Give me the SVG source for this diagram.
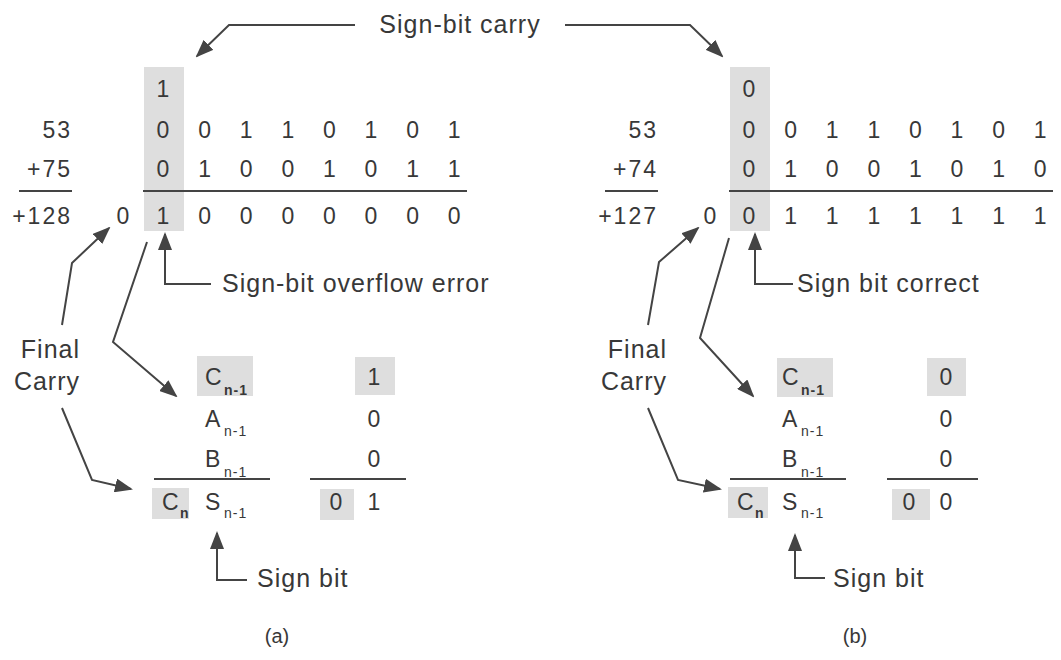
<svg xmlns="http://www.w3.org/2000/svg" width="1061" height="660" viewBox="0 0 1061 660">
<defs>
<style>
text{font-family:"Liberation Sans",Arial,sans-serif;fill:#383838}
.lbl{font-size:25px;letter-spacing:1px}
.num{font-size:23px;letter-spacing:2px}
.d{font-size:23px;text-anchor:middle}
.sub{font-size:14px;letter-spacing:1px}
.cap{font-size:20px;text-anchor:middle}
.shade{fill:#dedede}
.rule{stroke:#444;stroke-width:2;fill:none}
.conn{stroke:#444;stroke-width:2;fill:none;marker-end:url(#ah)}
</style>
<marker id="ah" markerUnits="userSpaceOnUse" markerWidth="18" markerHeight="14" refX="16" refY="7" orient="auto">
<path d="M0,0 L18,7 L0,14 Z" fill="#444"/>
</marker>
</defs>
<rect width="1061" height="660" fill="#fff"/>

<g id="title">
<text class="lbl" x="460" y="33" text-anchor="middle">Sign-bit carry</text>
</g>

<g id="panel-a-sum">
<rect class="shade" x="144" y="67" width="40" height="164"/>
<text class="d" x="163" y="97">1</text>
<text class="num" x="72" y="138" text-anchor="end">53</text>
<text class="num" x="72" y="177" text-anchor="end">+75</text>
<text class="num" x="72" y="224" text-anchor="end">+128</text>
<text class="d" x="123" y="224">0</text>
<g>
<text class="d" x="163" y="138">0</text><text class="d" x="204.6" y="138">0</text><text class="d" x="246.2" y="138">1</text><text class="d" x="287.8" y="138">1</text><text class="d" x="329.4" y="138">0</text><text class="d" x="371" y="138">1</text><text class="d" x="412.6" y="138">0</text><text class="d" x="454.2" y="138">1</text>
<text class="d" x="163" y="177">0</text><text class="d" x="204.6" y="177">1</text><text class="d" x="246.2" y="177">0</text><text class="d" x="287.8" y="177">0</text><text class="d" x="329.4" y="177">1</text><text class="d" x="371" y="177">0</text><text class="d" x="412.6" y="177">1</text><text class="d" x="454.2" y="177">1</text>
<text class="d" x="163" y="224">1</text><text class="d" x="204.6" y="224">0</text><text class="d" x="246.2" y="224">0</text><text class="d" x="287.8" y="224">0</text><text class="d" x="329.4" y="224">0</text><text class="d" x="371" y="224">0</text><text class="d" x="412.6" y="224">0</text><text class="d" x="454.2" y="224">0</text>
</g>
<line class="rule" x1="19" y1="191" x2="72" y2="191"/>
<line class="rule" x1="143" y1="191" x2="467" y2="191"/>
</g>

<g id="panel-b-sum">
<rect class="shade" x="730" y="67" width="40" height="164"/>
<text class="d" x="749" y="97">0</text>
<text class="num" x="658" y="138" text-anchor="end">53</text>
<text class="num" x="658" y="177" text-anchor="end">+74</text>
<text class="num" x="658" y="224" text-anchor="end">+127</text>
<text class="d" x="710" y="224">0</text>
<g>
<text class="d" x="749" y="138">0</text><text class="d" x="790.6" y="138">0</text><text class="d" x="832.2" y="138">1</text><text class="d" x="873.8" y="138">1</text><text class="d" x="915.4" y="138">0</text><text class="d" x="957" y="138">1</text><text class="d" x="998.6" y="138">0</text><text class="d" x="1040.2" y="138">1</text>
<text class="d" x="749" y="177">0</text><text class="d" x="790.6" y="177">1</text><text class="d" x="832.2" y="177">0</text><text class="d" x="873.8" y="177">0</text><text class="d" x="915.4" y="177">1</text><text class="d" x="957" y="177">0</text><text class="d" x="998.6" y="177">1</text><text class="d" x="1040.2" y="177">0</text>
<text class="d" x="749" y="224">0</text><text class="d" x="790.6" y="224">1</text><text class="d" x="832.2" y="224">1</text><text class="d" x="873.8" y="224">1</text><text class="d" x="915.4" y="224">1</text><text class="d" x="957" y="224">1</text><text class="d" x="998.6" y="224">1</text><text class="d" x="1040.2" y="224">1</text>
</g>
<line class="rule" x1="605" y1="191" x2="658" y2="191"/>
<line class="rule" x1="729" y1="191" x2="1053" y2="191"/>
</g>

<g id="panel-a-table">
<rect class="shade" x="197" y="356" width="56" height="40"/>
<rect class="shade" x="355" y="357" width="40" height="38"/>
<rect class="shade" x="152" y="488" width="37" height="31"/>
<rect class="shade" x="320" y="489" width="34" height="31"/>
<text class="num" x="205" y="385">C</text><text class="sub" x="224" y="395" font-weight="bold">n-1</text>
<text class="num" x="205" y="427">A</text><text class="sub" x="224" y="436">n-1</text>
<text class="num" x="205" y="467">B</text><text class="sub" x="224" y="477">n-1</text>
<text class="num" x="162" y="510">C</text><text class="sub" x="180" y="518" font-weight="bold">n</text>
<text class="num" x="205" y="510">S</text><text class="sub" x="224" y="518">n-1</text>
<text class="d" x="374" y="385">1</text>
<text class="d" x="374" y="427">0</text>
<text class="d" x="374" y="467">0</text>
<text class="d" x="336" y="510">0</text>
<text class="d" x="374" y="510">1</text>
<line class="rule" x1="154" y1="479" x2="270" y2="479"/>
<line class="rule" x1="310" y1="479" x2="406" y2="479"/>
</g>

<g id="panel-b-table">
<rect class="shade" x="777" y="358" width="56" height="39"/>
<rect class="shade" x="927" y="358" width="39" height="38"/>
<rect class="shade" x="728" y="487" width="40" height="31"/>
<rect class="shade" x="892" y="489" width="38" height="31"/>
<text class="num" x="782" y="385">C</text><text class="sub" x="801" y="395" font-weight="bold">n-1</text>
<text class="num" x="782" y="427">A</text><text class="sub" x="801" y="436">n-1</text>
<text class="num" x="782" y="467">B</text><text class="sub" x="801" y="477">n-1</text>
<text class="num" x="737" y="510">C</text><text class="sub" x="755" y="518" font-weight="bold">n</text>
<text class="num" x="782" y="510">S</text><text class="sub" x="801" y="518">n-1</text>
<text class="d" x="946" y="385">0</text>
<text class="d" x="946" y="427">0</text>
<text class="d" x="946" y="467">0</text>
<text class="d" x="909" y="510">0</text>
<text class="d" x="946" y="510">0</text>
<line class="rule" x1="730" y1="479" x2="846" y2="479"/>
<line class="rule" x1="887" y1="479" x2="978" y2="479"/>
</g>

<g id="labels-a">
<text class="lbl" x="222" y="292">Sign-bit overflow error</text>
<text class="lbl" x="80" y="358" text-anchor="end">Final</text>
<text class="lbl" x="80" y="390" text-anchor="end">Carry</text>
<text class="lbl" x="257" y="587">Sign bit</text>
<text class="cap" x="277" y="643">(a)</text>
</g>

<g id="labels-b">
<text class="lbl" x="797" y="292">Sign bit correct</text>
<text class="lbl" x="667" y="358" text-anchor="end">Final</text>
<text class="lbl" x="667" y="390" text-anchor="end">Carry</text>
<text class="lbl" x="833" y="587">Sign bit</text>
<text class="cap" x="855" y="643">(b)</text>
</g>

<g id="connectors">
<polyline class="conn" points="355,25 229,25 197,56"/>
<polyline class="conn" points="565,25 690,25 722,56"/>
<polyline class="conn" points="211,284 165,284 165,234"/>
<polyline class="conn" points="62,325 72,263 109,228"/>
<polyline class="conn" points="147,242 113,342 176,396"/>
<polyline class="conn" points="62,408 92,480 131,489"/>
<polyline class="conn" points="247,580 217,580 217,533"/>
<polyline class="conn" points="793,284 755,284 755,234"/>
<polyline class="conn" points="648,325 659,262 698,228"/>
<polyline class="conn" points="729,238 700,338 753,396"/>
<polyline class="conn" points="648,408 678,480 720,489"/>
<polyline class="conn" points="825,578 795,578 795,535"/>
</g>
</svg>
